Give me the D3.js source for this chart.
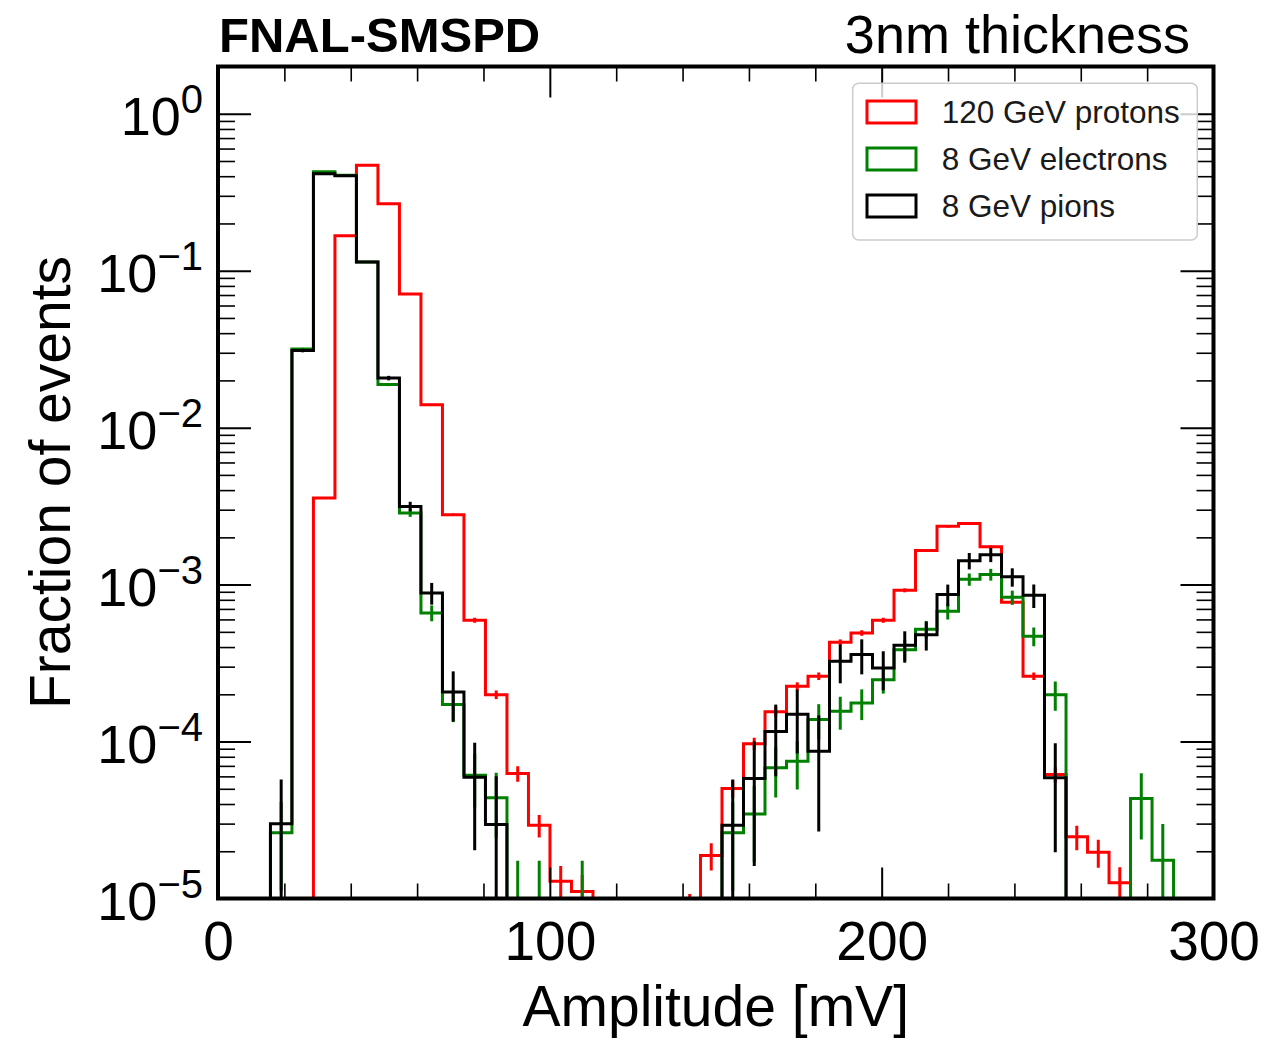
<!DOCTYPE html>
<html>
<head>
<meta charset="utf-8">
<script src="https://cdn.jsdelivr.net/npm/d3@7"></script>
<style>
  html, body { margin: 0; padding: 0; background: #fff; }
  svg { display: block; font-family: "Liberation Sans", Arial, Helvetica, sans-serif; }
</style>
</head>
<body>
<svg id="chart" width="1282" height="1039"></svg>
<script>
// histogram binning (mV)
const BIN_START = 15.8;
const BIN_WIDTH = 6.48;

// fraction of events per bin (null = empty bin), bins 0..41
const protons = [
  null, null, 3.56e-3, 0.167, 0.469, 0.267, 0.0711, 0.0140, 2.79e-3, 5.93e-4,
  1.99e-4, 6.25e-5, 2.93e-5, 1.29e-5, 1.11e-5, null, null, null, null, 8e-6,
  1.88e-5, 5.02e-5, 9.7e-5, 1.55e-4, 2.25e-4, 2.61e-4, 4.29e-4, 4.92e-4, 5.93e-4, 9.2e-4,
  1.65e-3, 2.35e-3, 2.45e-3, 1.74e-3, 7.71e-4, 2.61e-4, 6.16e-5, 2.47e-5, 1.97e-5, 1.26e-5,
  7e-6, null
];
const protonsErr = [
  null, null, 5.3e-5, 3.7e-4, 6.1e-4, 4.6e-4, 2.4e-4, 1.06e-4, 4.7e-5, 2.2e-5,
  1.26e-5, 7.1e-6, 4.8e-6, 3.2e-6, 3e-6, null, null, null, null, 2.7e-6,
  3.7e-6, 6.3e-6, 8.8e-6, 1.1e-5, 1.35e-5, 1.45e-5, 1.85e-5, 2e-5, 2.2e-5, 2.7e-5,
  3.6e-5, 4.3e-5, 4.4e-5, 3.7e-5, 2.5e-5, 1.45e-5, 7e-6, 4.4e-6, 4e-6, 3.2e-6,
  3.2e-6, null
];

const electrons = [
  2.62e-5, 0.0317, 0.427, 0.405, 0.1135, 0.0188, 2.86e-3, 6.6e-4, 1.72e-4, 6.1e-5,
  4.38e-5, 8.7e-6, 8.7e-6, null, 8.7e-6, null, null, null, null, null,
  null, 2.62e-5, 3.46e-5, 6.8e-5, 7.5e-5, 1.38e-4, 1.56e-4, 1.76e-4, 2.48e-4, 3.85e-4,
  5.2e-4, 6.76e-4, 1.08e-3, 1.16e-3, 8.3e-4, 4.69e-4, 1.99e-4, null, null, null,
  4.33e-5, 1.75e-5
];
const electronsErr = [
  1.5e-5, 5.3e-4, 1.9e-3, 1.9e-3, 1.0e-3, 4.0e-4, 1.6e-4, 7.6e-5, 3.9e-5, 2.3e-5,
  1.95e-5, 8.7e-6, 8.7e-6, null, 8.7e-6, null, null, null, null, null,
  null, 1.5e-5, 1.75e-5, 2.4e-5, 2.55e-5, 3.5e-5, 3.7e-5, 3.9e-5, 4.6e-5, 5.8e-5,
  6.7e-5, 7.7e-5, 9.7e-5, 1.0e-4, 8.5e-5, 6.4e-5, 4.2e-5, null, null, null,
  1.95e-5, 1.23e-5
];

const pions = [
  2.99e-5, 0.031, 0.415, 0.403, 0.1135, 0.0207, 3.15e-3, 8.85e-4, 2.07e-4, 5.93e-5,
  2.96e-5, null, null, null, null, null, null, null, null, null,
  null, 2.93e-5, 5.81e-5, 1.16e-4, 1.49e-4, 8.67e-5, 3.25e-4, 3.58e-4, 2.94e-4, 4.11e-4,
  4.8e-4, 8.64e-4, 1.42e-3, 1.55e-3, 1.12e-3, 8.55e-4, 5.87e-5, null, null, null,
  null, null
];
const pionsErr = [
  2.74e-5, 8e-4, 3e-3, 3e-3, 1.6e-3, 6.8e-4, 2.2e-4, 1.4e-4, 7.3e-5, 3.9e-5,
  3.05e-5, null, null, null, null, null, null, null, null, null,
  null, 2.8e-5, 4.2e-5, 5.6e-5, 6.5e-5, 6e-5, 9e-5, 9e-5, 8.2e-5, 9.3e-5,
  1e-4, 1.36e-4, 1.7e-4, 1.6e-4, 1.5e-4, 1.45e-4, 3.9e-5, null, null, null,
  null, null
];

const seriesNames = ["120 GeV protons", "8 GeV electrons", "8 GeV pions"];
const seriesColors = ["#ff0000", "#008000", "#000000"];

const xMajorTicks = [0, 100, 200, 300];
const xMinorStep = 20;
const yDecades = [-5, -4, -3, -2, -1, 0];

const series = [
  { name: seriesNames[0], color: seriesColors[0], values: protons, errors: protonsErr },
  { name: seriesNames[1], color: seriesColors[1], values: electrons, errors: electronsErr },
  { name: seriesNames[2], color: seriesColors[2], values: pions, errors: pionsErr }
];

const svg = d3.select("#chart");
const plotLeft = 218, plotRight = 1213.5, plotTop = 66.5, plotBottom = 898.5;

const x = d3.scaleLinear().domain([0, 300]).range([plotLeft, plotRight]);
const y = d3.scaleLog().domain([1e-5, 2]).range([plotBottom, plotTop]);

svg.append("clipPath").attr("id", "plotClip")
  .append("rect")
  .attr("x", plotLeft).attr("y", plotTop)
  .attr("width", plotRight - plotLeft).attr("height", plotBottom - plotTop);

const plot = svg.append("g").attr("clip-path", "url(#plotClip)");

const floorY = plotBottom + 12; // below the frame, clipped away
const yPix = v => (v == null || v <= 0) ? floorY : Math.min(y(v), floorY);
const edge = i => BIN_START + i * BIN_WIDTH;

const line = d3.line();

series.forEach(s => {
  const first = s.values.findIndex(v => v != null);
  let last = s.values.length - 1;
  while (s.values[last] == null) last--;

  const pts = [[x(edge(first)), floorY]];
  for (let i = first; i <= last; i++) {
    const yy = yPix(s.values[i]);
    pts.push([x(edge(i)), yy]);
    pts.push([x(edge(i + 1)), yy]);
  }
  pts.push([x(edge(last + 1)), floorY]);

  plot.append("path")
    .attr("d", line(pts))
    .attr("fill", "none")
    .attr("stroke", s.color)
    .attr("stroke-width", 3)
    .attr("stroke-linejoin", "miter");

  // error bars
  const bars = s.values.map((v, i) => ({ v, e: s.errors[i], i }))
    .filter(d => d.v != null && d.e != null);
  plot.selectAll(null)
    .data(bars)
    .enter().append("line")
    .attr("x1", d => x(edge(d.i) + BIN_WIDTH / 2))
    .attr("x2", d => x(edge(d.i) + BIN_WIDTH / 2))
    .attr("y1", d => yPix(d.v + d.e))
    .attr("y2", d => yPix(Math.max(d.v - d.e, 1e-9)))
    .attr("stroke", s.color)
    .attr("stroke-width", 3);
});

// tick values
const xMinorTicks = d3.range(0, 301, xMinorStep).filter(t => !xMajorTicks.includes(t));
const yMajorTicks = yDecades.map(d => Math.pow(10, d));
const yMinorTicks = [];
yDecades.forEach(d => {
  for (let m = 2; m <= 9; m++) {
    const t = m * Math.pow(10, d);
    if (t <= 2) yMinorTicks.push(t);
  }
});

function styleTicks(g, width) {
  g.select(".domain").remove();
  g.selectAll(".tick line").attr("stroke", "#000").attr("stroke-width", width);
}

// bottom / top x ticks
svg.append("g").attr("transform", `translate(0,${plotBottom})`)
  .call(d3.axisBottom(x).tickValues(xMinorTicks).tickSize(-15).tickFormat(""))
  .call(g => styleTicks(g, 1.6));
svg.append("g").attr("transform", `translate(0,${plotTop})`)
  .call(d3.axisTop(x).tickValues(xMinorTicks).tickSize(-15).tickFormat(""))
  .call(g => styleTicks(g, 1.6));
svg.append("g").attr("transform", `translate(0,${plotTop})`)
  .call(d3.axisTop(x).tickValues(xMajorTicks).tickSize(-31).tickFormat(""))
  .call(g => styleTicks(g, 2));

const xAxis = svg.append("g").attr("transform", `translate(0,${plotBottom})`)
  .call(d3.axisBottom(x).tickValues(xMajorTicks).tickSize(-31).tickPadding(22))
  .call(g => styleTicks(g, 2));
xAxis.selectAll(".tick text")
  .attr("fill", "#000")
  .style("font-size", "55px")
  .style("font-family", "'Liberation Sans', Arial, sans-serif");

// left / right y ticks
svg.append("g").attr("transform", `translate(${plotLeft},0)`)
  .call(d3.axisLeft(y).tickValues(yMinorTicks).tickSize(-17).tickFormat(""))
  .call(g => styleTicks(g, 1.6));
svg.append("g").attr("transform", `translate(${plotRight},0)`)
  .call(d3.axisRight(y).tickValues(yMinorTicks).tickSize(-17).tickFormat(""))
  .call(g => styleTicks(g, 1.6));
svg.append("g").attr("transform", `translate(${plotRight},0)`)
  .call(d3.axisRight(y).tickValues(yMajorTicks).tickSize(-33).tickFormat(""))
  .call(g => styleTicks(g, 2));

const yAxis = svg.append("g").attr("transform", `translate(${plotLeft},0)`)
  .call(d3.axisLeft(y).tickValues(yMajorTicks).tickSize(-33).tickPadding(15).tickFormat(""))
  .call(g => styleTicks(g, 2));
yAxis.selectAll(".tick text").each(function (d) {
  const t = d3.select(this)
    .attr("dy", null)
    .attr("y", 21)
    .attr("fill", "#000")
    .style("font-family", "'Liberation Sans', Arial, sans-serif");
  const exp = Math.round(Math.log10(d));
  t.append("tspan").style("font-size", "54px").text("10");
  t.append("tspan").attr("dy", -22).style("font-size", "40px")
    .text(exp < 0 ? "\u2212" + (-exp) : String(exp));
});

// frame
svg.append("rect")
  .attr("x", plotLeft).attr("y", plotTop)
  .attr("width", plotRight - plotLeft).attr("height", plotBottom - plotTop)
  .attr("fill", "none").attr("stroke", "#000").attr("stroke-width", 4);

// legend
const legend = svg.append("g");
legend.append("rect")
  .attr("x", 852.7).attr("y", 83.3)
  .attr("width", 344.6).attr("height", 156.7)
  .attr("rx", 6)
  .attr("fill", "#fff").attr("fill-opacity", 0.8)
  .attr("stroke", "#cccccc").attr("stroke-width", 1.5);
series.forEach((s, i) => {
  const cy = 112 + i * 47;
  legend.append("rect")
    .attr("x", 867).attr("y", cy - 11)
    .attr("width", 49).attr("height", 22)
    .attr("fill", "none").attr("stroke", s.color).attr("stroke-width", 3);
  legend.append("text")
    .attr("x", 941.7).attr("y", cy + 11)
    .attr("fill", "#1a1a1a")
    .style("font-size", "31.5px")
    .text(s.name);
});

// axis titles
svg.append("text")
  .attr("x", (plotLeft + plotRight) / 2).attr("y", 1026)
  .attr("text-anchor", "middle")
  .style("font-size", "57px")
  .text("Amplitude [mV]");

svg.append("text")
  .attr("transform", `translate(70,${(plotTop + plotBottom) / 2}) rotate(-90)`)
  .attr("text-anchor", "middle")
  .style("font-size", "57px")
  .text("Fraction of events");

// header texts
svg.append("text")
  .attr("x", 219).attr("y", 52)
  .style("font-size", "49px")
  .style("font-weight", "bold")
  .text("FNAL-SMSPD");

svg.append("text")
  .attr("x", 1190).attr("y", 53)
  .attr("text-anchor", "end")
  .style("font-size", "54px")
  .text("3nm thickness");
</script>
</body>
</html>
